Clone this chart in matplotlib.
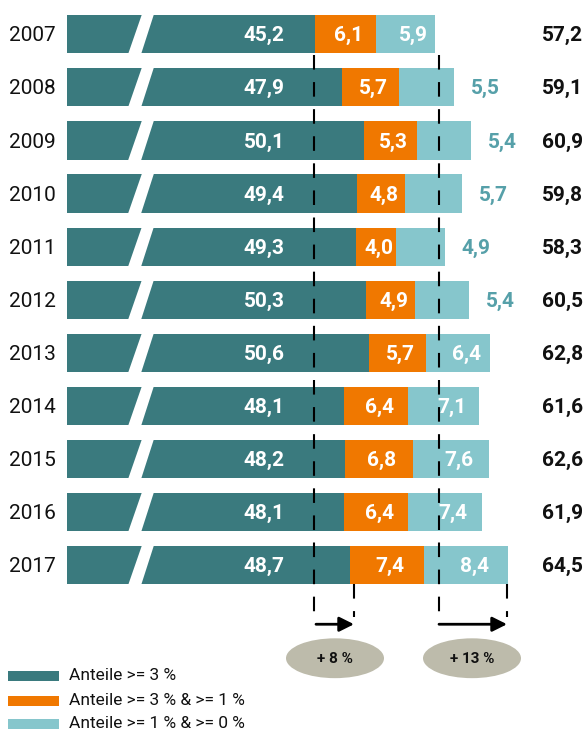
import numpy as np
import matplotlib
matplotlib.use("Agg")
import matplotlib.pyplot as plt
from matplotlib.patches import Ellipse, Polygon, Rectangle

years = ["2007", "2008", "2009", "2010", "2011", "2012",
         "2013", "2014", "2015", "2016", "2017"]
share_3 = [45.2, 47.9, 50.1, 49.4, 49.3, 50.3, 50.6, 48.1, 48.2, 48.1, 48.7]
share_3_1 = [6.1, 5.7, 5.3, 4.8, 4.0, 4.9, 5.7, 6.4, 6.8, 6.4, 7.4]
share_1_0 = [5.9, 5.5, 5.4, 5.7, 4.9, 5.4, 6.4, 7.1, 7.6, 7.4, 8.4]
totals = [57.2, 59.1, 60.9, 59.8, 58.3, 60.5, 62.8, 61.6, 62.6, 61.9, 64.5]
# light-blue value printed next to the bar instead of inside it
label_outside = [False, True, True, True, True, True,
                 False, False, False, False, False]
legend_labels = ["Anteile >= 3 %", "Anteile >= 3 % & >= 1 %",
                 "Anteile >= 1 % & >= 0 %"]

TEAL = "#3a7a7e"
ORANGE = "#f07800"
LIGHT = "#86c6cc"
LIGHT_TXT = "#56a0a9"
GREY = "#bdbbab"

plt.rcParams["font.family"] = ["Roboto", "DejaVu Sans"]


def fmt(v):
    return ("%.1f" % v).replace(".", ",")


W, H = 585, 731
fig = plt.figure(figsize=(W / 100, H / 100), dpi=100)
ax = fig.add_axes([0, 0, 1, 1])
ax.set_xlim(13.7, 72.2)
ax.set_ylim(13.12, -0.644)
ax.axis("off")

a = np.array(share_3)
b = np.array(share_3_1)
c = np.array(share_1_0)
y = np.arange(len(years))
x0 = 20.4
h = 0.72

ax.barh(y, a - x0, left=x0, height=h, color=TEAL, zorder=2)
ax.barh(y, b, left=a, height=h, color=ORANGE, zorder=2)
ax.barh(y, c, left=a + b, height=h, color=LIGHT, zorder=2)

# axis break: white slanted gap in each bar
for i in y:
    ax.add_patch(Polygon([(27.9, i - h / 2 - 0.02), (29.1, i - h / 2 - 0.02),
                          (27.8, i + h / 2 + 0.02), (26.5, i + h / 2 + 0.02)],
                         closed=True, color="white", lw=0, zorder=3))

# dashed reference lines
dash = dict(color="black", lw=1.5, ls=(0, (7, 6)), zorder=4)
first_tot = a[0] + b[0] + c[0]
last_tot = a[-1] + b[-1] + c[-1]
ax.plot([a[0] - 0.1, a[0] - 0.1], [0.39, 10.98], **dash)
ax.plot([first_tot + 0.4, first_tot + 0.4], [0.39, 10.98], **dash)
ax.plot([a[-1] + 0.4, a[-1] + 0.4], [10.36, 10.98], **dash)
ax.plot([last_tot - 0.1, last_tot - 0.1], [10.36, 10.98], **dash)

ya = 11.11
arrow = dict(arrowstyle="-|>", color="black", lw=2, mutation_scale=22,
             shrinkA=0, shrinkB=0)
ax.annotate("", xy=(a[-1] + 0.4, ya), xytext=(a[0] + 0.1, ya),
            arrowprops=arrow, zorder=4)
ax.annotate("", xy=(last_tot - 0.1, ya), xytext=(first_tot + 0.4, ya),
            arrowprops=arrow, zorder=4)

pct_teal = round((a[-1] / a[0] - 1) * 100)
pct_tot = round((last_tot / first_tot - 1) * 100)
for cx, pct in [(47.2, pct_teal), (60.9, pct_tot)]:
    ax.add_patch(Ellipse((cx, 11.75), 9.8, 0.75, color=GREY, lw=0))
    ax.text(cx, 11.77, "+ %d %%" % pct, ha="center", va="center",
            fontsize=11, fontweight="bold", color="#111111")

# labels
for i in y:
    ax.text(16.9, i + 0.03, years[i], ha="center", va="center",
            fontsize=15, color="#111111")
    ax.text(40.1, i + 0.03, fmt(a[i]), ha="center", va="center",
            fontsize=15, fontweight="bold", color="white", zorder=5)
    ax.text(a[i] + b[i] / 2 + 0.3, i + 0.03, fmt(b[i]), ha="center",
            va="center", fontsize=15, fontweight="bold", color="white",
            zorder=5)
    if label_outside[i]:
        ax.text(a[i] + b[i] + c[i] + 3.1, i + 0.03, fmt(c[i]), ha="center",
                va="center", fontsize=15, fontweight="bold",
                color=LIGHT_TXT, zorder=5)
    else:
        ax.text(a[i] + b[i] + c[i] / 2 + 0.8, i + 0.03, fmt(c[i]),
                ha="center", va="center", fontsize=15, fontweight="bold",
                color="white", zorder=5)
    ax.text(72.0, i + 0.03, fmt(totals[i]), ha="right", va="center",
            fontsize=15, fontweight="bold", color="#111111")

# legend
for yc, col, lab in zip([676, 700.5, 723.5], [TEAL, ORANGE, LIGHT],
                        legend_labels):
    fig.add_artist(Rectangle((8 / W, 1 - (yc + 5) / H), 51 / W, 10 / H,
                             transform=fig.transFigure, color=col, lw=0))
    fig.text(69 / W, 1 - yc / H, lab, ha="left", va="center",
             fontsize=12.5, color="#111111")

fig.savefig("out.png", dpi=100)
